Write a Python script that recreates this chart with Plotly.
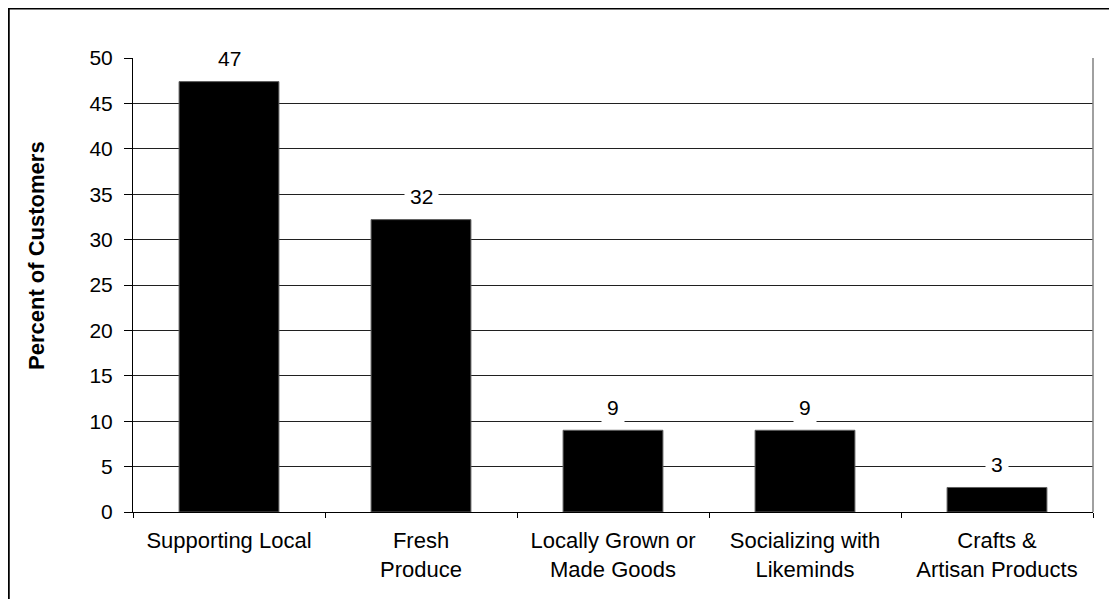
import plotly.graph_objects as go

categories = ["Supporting Local", "Fresh<br>Produce", "Locally Grown or<br>Made Goods",
              "Socializing with<br>Likeminds", "Crafts &<br>Artisan Products"]
values = [47.4, 32.2, 9.0, 9.0, 2.7]
y_ticks = [0, 5, 10, 15, 20, 25, 30, 35, 40, 45, 50]
y_title = "Percent of Customers"

# page is offset by the 8px body margin
OFF = 8
W, H = 1117 - OFF, 599 - OFF
L, R, T, B = 133 - OFF, 24, 58 - OFF, 87
pw, ph = W - L - R, H - T - B

FONT = "Liberation Sans, Arial, sans-serif"

fig = go.Figure()
fig.add_trace(go.Bar(
    x=categories, y=values,
    marker=dict(color="#000000", line=dict(color="#606060", width=1)),
    hoverinfo="skip",
))

for c, v in zip(categories, values):
    fig.add_annotation(
        x=c, y=v, xref="x", yref="y", text=f"{v:.0f}", showarrow=False,
        yanchor="middle", yshift=23, bgcolor="white", borderpad=5,
        font=dict(family=FONT, size=21, color="#000"),
    )

fig.add_annotation(
    xref="paper", yref="paper", x=(37 - OFF - L) / pw, y=(H - B - (256 - OFF)) / ph,
    text=f"<b>{y_title}</b>", textangle=-90, showarrow=False,
    xanchor="center", yanchor="middle",
    font=dict(family=FONT, size=22, color="#000"),
)

# right plot-area edge (gray) and outer chart frame
fig.add_shape(type="line", xref="paper", yref="paper", x0=1, x1=1, y0=0, y1=1,
              line=dict(color="#808080", width=1.5))
fig.add_shape(type="rect", xref="paper", yref="paper",
              x0=(0.5 - L) / pw, x1=(W + 20 - L) / pw,
              y0=(H - B - (H + 20)) / ph, y1=(H - B - 0.3) / ph,
              line=dict(color="#000000", width=2.5), layer="above")

fig.update_layout(
    width=W, height=H,
    margin=dict(l=L, r=R, t=T, b=B, pad=0),
    paper_bgcolor="white", plot_bgcolor="white",
    bargap=0.48, showlegend=False,
    font=dict(family=FONT, size=21, color="#000"),
)
fig.update_xaxes(
    type="category", tickson="boundaries", ticks="outside", ticklen=5,
    tickcolor="#000", tickwidth=1, showline=True, linecolor="#000", linewidth=1,
    showgrid=False, ticklabelstandoff=9,
    tickfont=dict(family=FONT, size=22, color="#000"),
)
fig.update_yaxes(
    range=[0, 50], tickvals=y_ticks, ticks="outside", ticklen=8, tickcolor="#000",
    showline=True, linecolor="#000", linewidth=1, showgrid=True,
    gridcolor="#202020", gridwidth=1, zeroline=False, ticklabelstandoff=7,
    tickfont=dict(family=FONT, size=21, color="#000"),
)

fig.write_html("out.html")
